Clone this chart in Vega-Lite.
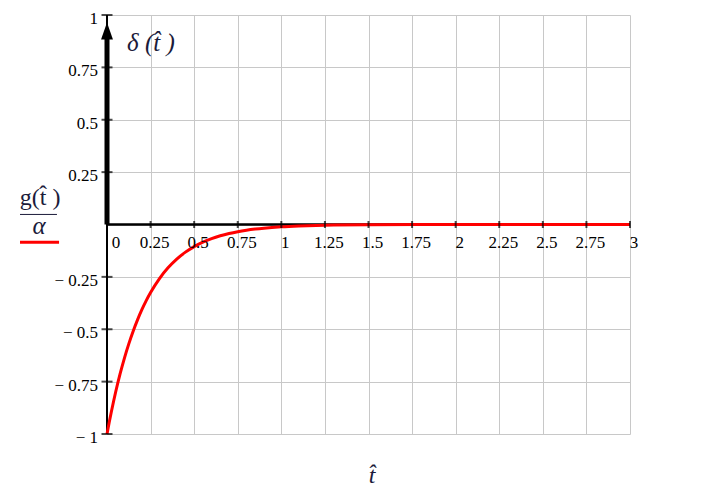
{
  "$schema": "https://vega.github.io/schema/vega-lite/v6.json",
  "autosize": {"type": "none"},
  "width": 523,
  "height": 419,
  "padding": {"left": 107, "top": 15, "right": 82, "bottom": 63},
  "background": "white",
  "config": {"view": {"stroke": null}},
  "datasets": {
    "one": [{}],
    "curve": [
      {"t": 0, "g": -1},
      {"t": 0.0125, "g": -0.9453},
      {"t": 0.025, "g": -0.8936},
      {"t": 0.0375, "g": -0.8447},
      {"t": 0.05, "g": -0.7985},
      {"t": 0.075, "g": -0.7136},
      {"t": 0.1, "g": -0.6376},
      {"t": 0.125, "g": -0.5698},
      {"t": 0.15, "g": -0.5092},
      {"t": 0.175, "g": -0.455},
      {"t": 0.2, "g": -0.4066},
      {"t": 0.225, "g": -0.3633},
      {"t": 0.25, "g": -0.3247},
      {"t": 0.3, "g": -0.2592},
      {"t": 0.35, "g": -0.207},
      {"t": 0.4, "g": -0.1653},
      {"t": 0.45, "g": -0.132},
      {"t": 0.5, "g": -0.1054},
      {"t": 0.55, "g": -0.0842},
      {"t": 0.6, "g": -0.0672},
      {"t": 0.65, "g": -0.0537},
      {"t": 0.7, "g": -0.0429},
      {"t": 0.75, "g": -0.0342},
      {"t": 0.8, "g": -0.0273},
      {"t": 0.85, "g": -0.0218},
      {"t": 0.9, "g": -0.0174},
      {"t": 1.0, "g": -0.0111},
      {"t": 1.1, "g": -0.0071},
      {"t": 1.2, "g": -0.0045},
      {"t": 1.3, "g": -0.0029},
      {"t": 1.5, "g": -0.0012},
      {"t": 2.0, "g": -0.0001},
      {"t": 3.0, "g": 0}
    ],
    "xticks": [
      {"v": 0, "label": "0"}, {"v": 0.25, "label": "0.25"}, {"v": 0.5, "label": "0.5"},
      {"v": 0.75, "label": "0.75"}, {"v": 1, "label": "1"}, {"v": 1.25, "label": "1.25"},
      {"v": 1.5, "label": "1.5"}, {"v": 1.75, "label": "1.75"}, {"v": 2, "label": "2"},
      {"v": 2.25, "label": "2.25"}, {"v": 2.5, "label": "2.5"}, {"v": 2.75, "label": "2.75"},
      {"v": 3, "label": "3"}
    ],
    "yticks": [
      {"v": 1, "label": "1"}, {"v": 0.75, "label": "0.75"}, {"v": 0.5, "label": "0.5"},
      {"v": 0.25, "label": "0.25"}, {"v": -0.25, "label": "− 0.25"}, {"v": -0.5, "label": "− 0.5"},
      {"v": -0.75, "label": "− 0.75"}, {"v": -1, "label": "− 1"}
    ]
  },
  "layer": [
    {
      "data": {"name": "curve"},
      "mark": {"type": "line", "opacity": 0},
      "encoding": {
        "x": {"field": "t", "type": "quantitative",
          "scale": {"domain": [0, 3], "nice": false, "zero": false},
          "axis": {"values": [0,0.25,0.5,0.75,1,1.25,1.5,1.75,2,2.25,2.5,2.75,3], "grid": true, "gridColor": "#c8c8c8", "gridWidth": 1, "domain": false, "ticks": false, "labels": false, "title": null}},
        "y": {"field": "g", "type": "quantitative",
          "scale": {"domain": [-1, 1], "nice": false, "zero": false},
          "axis": {"values": [-1,-0.75,-0.5,-0.25,0,0.25,0.5,0.75,1], "grid": true, "gridColor": "#c8c8c8", "gridWidth": 1, "domain": false, "ticks": false, "labels": false, "title": null}}
      }
    },
    {
      "data": {"name": "one"},
      "mark": {"type": "rule", "color": "black", "strokeWidth": 2.5},
      "encoding": {"x": {"datum": 0}, "x2": {"datum": 3}, "y": {"datum": 0}}
    },
    {
      "data": {"name": "one"},
      "mark": {"type": "rule", "color": "black", "strokeWidth": 2},
      "encoding": {"x": {"datum": 0}, "y": {"datum": -1}, "y2": {"datum": 1}}
    },
    {
      "data": {"name": "one"},
      "mark": {"type": "rule", "color": "black", "strokeWidth": 5},
      "encoding": {"x": {"datum": 0}, "y": {"datum": 0}, "y2": {"datum": 0.89}}
    },
    {
      "data": {"name": "one"},
      "mark": {"type": "point", "shape": "M0,-1L-0.7,1L0.7,1Z", "filled": true, "color": "black", "opacity": 1, "size": 289, "strokeWidth": 0},
      "encoding": {"x": {"datum": 0}, "y": {"datum": 0.924}}
    },
    {
      "data": {"name": "curve"},
      "mark": {"type": "line", "color": "#ff0000", "strokeWidth": 3, "interpolate": "monotone"},
      "encoding": {
        "x": {"field": "t", "type": "quantitative"},
        "y": {"field": "g", "type": "quantitative"}
      }
    },
    {
      "data": {"name": "xticks"},
      "mark": {"type": "tick", "orient": "vertical", "color": "black", "size": 7, "thickness": 2},
      "encoding": {"x": {"field": "v", "type": "quantitative"}, "y": {"datum": 0}}
    },
    {
      "data": {"name": "yticks"},
      "mark": {"type": "tick", "orient": "horizontal", "color": "black", "size": 11, "thickness": 2},
      "encoding": {"y": {"field": "v", "type": "quantitative"}, "x": {"datum": 0}}
    },
    {
      "data": {"name": "xticks"},
      "transform": [{"filter": "datum.v > 0"}],
      "mark": {"type": "text", "font": "Liberation Serif", "fontSize": 17, "align": "center", "baseline": "alphabetic", "dx": 4, "dy": 23, "color": "black"},
      "encoding": {"x": {"field": "v", "type": "quantitative"}, "y": {"datum": 0}, "text": {"field": "label"}}
    },
    {
      "data": {"name": "xticks"},
      "transform": [{"filter": "datum.v == 0"}],
      "mark": {"type": "text", "font": "Liberation Serif", "fontSize": 17, "align": "center", "baseline": "alphabetic", "dx": 9, "dy": 23, "color": "black"},
      "encoding": {"x": {"field": "v", "type": "quantitative"}, "y": {"datum": 0}, "text": {"field": "label"}}
    },
    {
      "data": {"name": "yticks"},
      "mark": {"type": "text", "font": "Liberation Serif", "fontSize": 17, "align": "right", "baseline": "alphabetic", "dx": -9, "dy": 9, "color": "black"},
      "encoding": {"y": {"field": "v", "type": "quantitative"}, "x": {"datum": 0}, "text": {"field": "label"}}
    },
    {
      "data": {"name": "one"},
      "mark": {"type": "text", "font": "Liberation Serif", "fontSize": 25, "fontStyle": "italic", "align": "left", "baseline": "alphabetic", "color": "#1b1b3a", "text": "δ (t̂ )"},
      "encoding": {"x": {"datum": 0.115}, "y": {"datum": 0.83}}
    },
    {
      "data": {"name": "one"},
      "mark": {"type": "text", "font": "Liberation Serif", "fontSize": 24, "align": "center", "baseline": "alphabetic", "color": "#1b1b3a", "text": "g(t̂ )"},
      "encoding": {"x": {"datum": -0.384}, "y": {"datum": 0.095}}
    },
    {
      "data": {"name": "one"},
      "mark": {"type": "rule", "color": "#1b1b3a", "strokeWidth": 1},
      "encoding": {"x": {"datum": -0.499}, "x2": {"datum": -0.287}, "y": {"datum": 0.048}}
    },
    {
      "data": {"name": "one"},
      "mark": {"type": "text", "font": "Liberation Serif", "fontSize": 25, "fontStyle": "italic", "align": "center", "baseline": "alphabetic", "color": "#1b1b3a", "text": "α"},
      "encoding": {"x": {"datum": -0.39}, "y": {"datum": -0.043}}
    },
    {
      "data": {"name": "one"},
      "mark": {"type": "rule", "color": "#ff0000", "strokeWidth": 3},
      "encoding": {"x": {"datum": -0.499}, "x2": {"datum": -0.275}, "y": {"datum": -0.0845}}
    },
    {
      "data": {"name": "one"},
      "mark": {"type": "text", "font": "Liberation Serif", "fontSize": 24, "fontStyle": "italic", "align": "center", "baseline": "alphabetic", "color": "#1b1b3a", "text": "t̂"},
      "encoding": {"x": {"datum": 1.52}, "y": {"datum": -1.232}}
    }
  ]
}
